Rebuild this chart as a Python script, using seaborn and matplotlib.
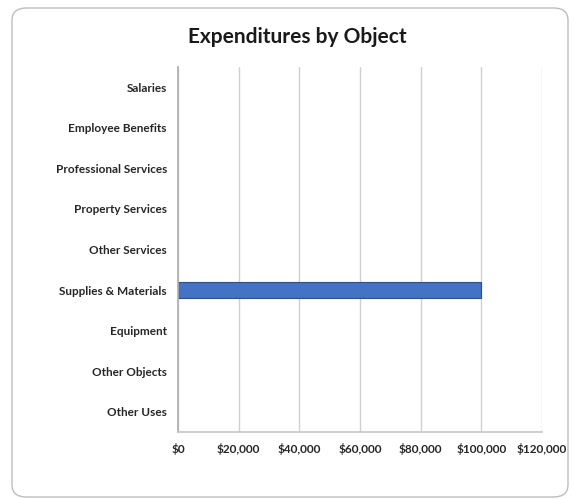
import matplotlib
matplotlib.use("Agg")
import matplotlib.pyplot as plt
import seaborn as sns
import pandas as pd
from matplotlib.patches import FancyBboxPatch
from matplotlib.ticker import FuncFormatter

categories = ["Salaries", "Employee Benefits", "Professional Services",
              "Property Services", "Other Services", "Supplies & Materials",
              "Equipment", "Other Objects", "Other Uses"]
amounts = [0, 0, 0, 0, 0, 100000, 0, 0, 0]
x_ticks = [0, 20000, 40000, 60000, 80000, 100000, 120000]

df = pd.DataFrame({"Object": categories, "Amount": amounts})

sns.set_theme(style="white")
plt.rcParams["font.family"] = ["Lato", "DejaVu Sans"]

fig = plt.figure(figsize=(5.75, 4.99), dpi=100)
fig.patch.set_facecolor("white")

# rounded chart border
border = FancyBboxPatch((12 / 575, 1 - 497 / 499), (568 - 12) / 575, (497 - 8) / 499,
                        boxstyle="round,pad=0,rounding_size=0.025",
                        transform=fig.transFigure, facecolor="none",
                        edgecolor="#bdbdbd", linewidth=1.0, zorder=-1)
fig.patches.append(border)

ax = fig.add_axes([178 / 575, 1 - 432 / 499, (542 - 178) / 575, (432 - 67) / 499])
ax.set_facecolor("none")

sns.barplot(data=df, x="Amount", y="Object", orient="h", ax=ax,
            color="#4472C4", width=0.4, edgecolor="#2F4F8A", linewidth=0.8,
            saturation=1)

# empty categories get no outline stub at zero
for bar in ax.patches:
    if bar.get_width() == 0:
        bar.set_linewidth(0)

ax.set_xlim(0, 120000)
ax.set_xticks(x_ticks)
ax.xaxis.set_major_formatter(FuncFormatter(lambda v, p: f"${v:,.0f}"))
ax.grid(axis="x", color="#d0d0d0", linewidth=1.0)
ax.set_axisbelow(True)
for s in ["top", "right"]:
    ax.spines[s].set_visible(False)
ax.spines["left"].set_color("#b0b0b0")
ax.spines["bottom"].set_color("#c8c8c8")
ax.set_xlabel("")
ax.set_ylabel("")
ax.tick_params(axis="both", length=0, labelsize=8.5, colors="#262626", pad=8)
for lbl in ax.get_xticklabels() + ax.get_yticklabels():
    lbl.set_fontweight("bold")
ax.tick_params(axis="x", pad=8)

fig.text(297 / 575, 1 - 37 / 499, "Expenditures by Object", ha="center", va="center",
         fontsize=15, fontweight="bold", color="#1a1a1a")

fig.savefig("out.png", dpi=100)
